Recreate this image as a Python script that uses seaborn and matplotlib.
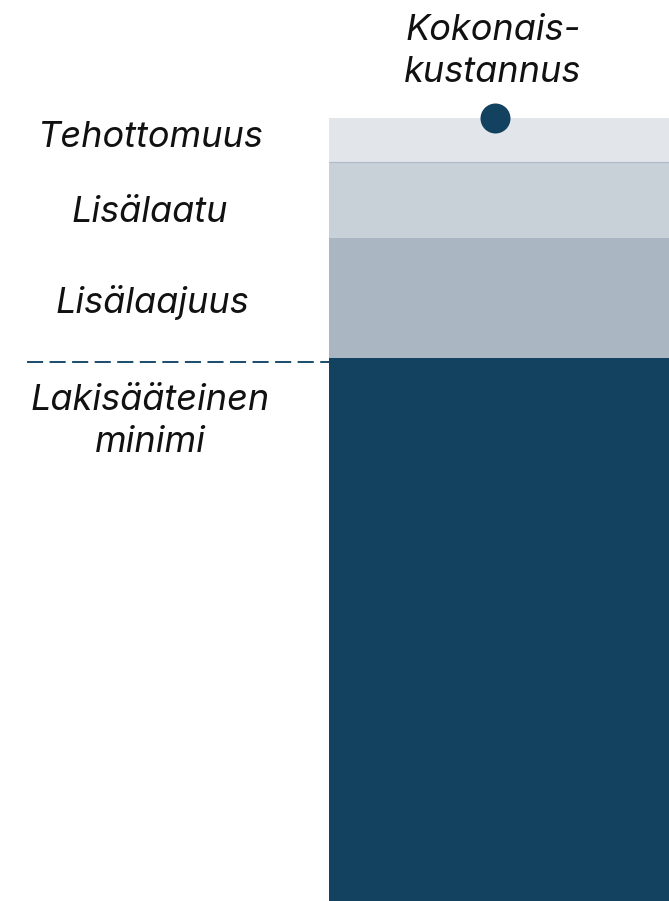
import matplotlib
matplotlib.use("Agg")
import matplotlib.pyplot as plt
import seaborn as sns
import pandas as pd
import numpy as np

# ---- data ----
categories = ["Lakisääteinen\nminimi", "Lisälaajuus", "Lisälaatu", "Tehottomuus"]
values = [69.35, 15.33, 9.71, 5.62]
colors = ["#12425F", "#AAB6C2", "#C8D0D8", "#E2E6EB"]
total_label = "Kokonais-\nkustannus"

sns.set_theme(style="white")
plt.rcParams['font.family'] = ['Inter', 'DejaVu Sans']

W, H = 669, 901
fig = plt.figure(figsize=(W / 100, H / 100), dpi=100)
ax = fig.add_axes([0, 0, 1, 1])

cum = np.cumsum(values)
total = cum[-1]
for i in range(len(values) - 1, -1, -1):
    df = pd.DataFrame({"x": ["Kokonais"], "y": [cum[i]]})
    sns.barplot(data=df, x="x", y="y", color=colors[i], saturation=1,
                width=1.0, ax=ax, linewidth=0, edgecolor="none")

s = 343.0  # px per x-unit
x_left = -0.5 - 329 / s
x_right = -0.5 + (W - 329) / s
ax.set_xlim(x_left, x_right)
ax.set_ylim(0, total * H / (H - 118))

ax.plot([-0.5, 0.6], [cum[2], cum[2]], color="#B0BCC8", lw=0.9, solid_capstyle="butt", zorder=3)

dot_x = (495 - 329) / s - 0.5
ax.scatter([dot_x], [total], s=(30 * 72 / 100) ** 2, color="#12425F", zorder=5, linewidths=0)

ypx = lambda py: (H - py) / (H - 118) * total
xpx = lambda px: x_left + px / s
ax.plot([xpx(27), -0.5], [ypx(362), ypx(362)], color="#1F5070", lw=1.45,
        dashes=(8, 3.2), dash_capstyle="butt", zorder=4)

ax.set_axis_off()

fs = 26
tkw = dict(fontsize=fs, style="italic", color="#111111", ha="center", va="baseline",
           transform=ax.transData, linespacing=1.33)
label_pos = {
    "Tehottomuus": (150, 147),
    "Lisälaatu": (150, 222),
    "Lisälaajuus": (152, 313),
}
for name, (px, py) in label_pos.items():
    ax.text(xpx(px), ypx(py), name, **tkw)
ax.text(xpx(150), ypx(452), categories[0], **tkw)
ax.text(xpx(493), ypx(82), total_label, **tkw)

fig.savefig("out.png", dpi=100)
